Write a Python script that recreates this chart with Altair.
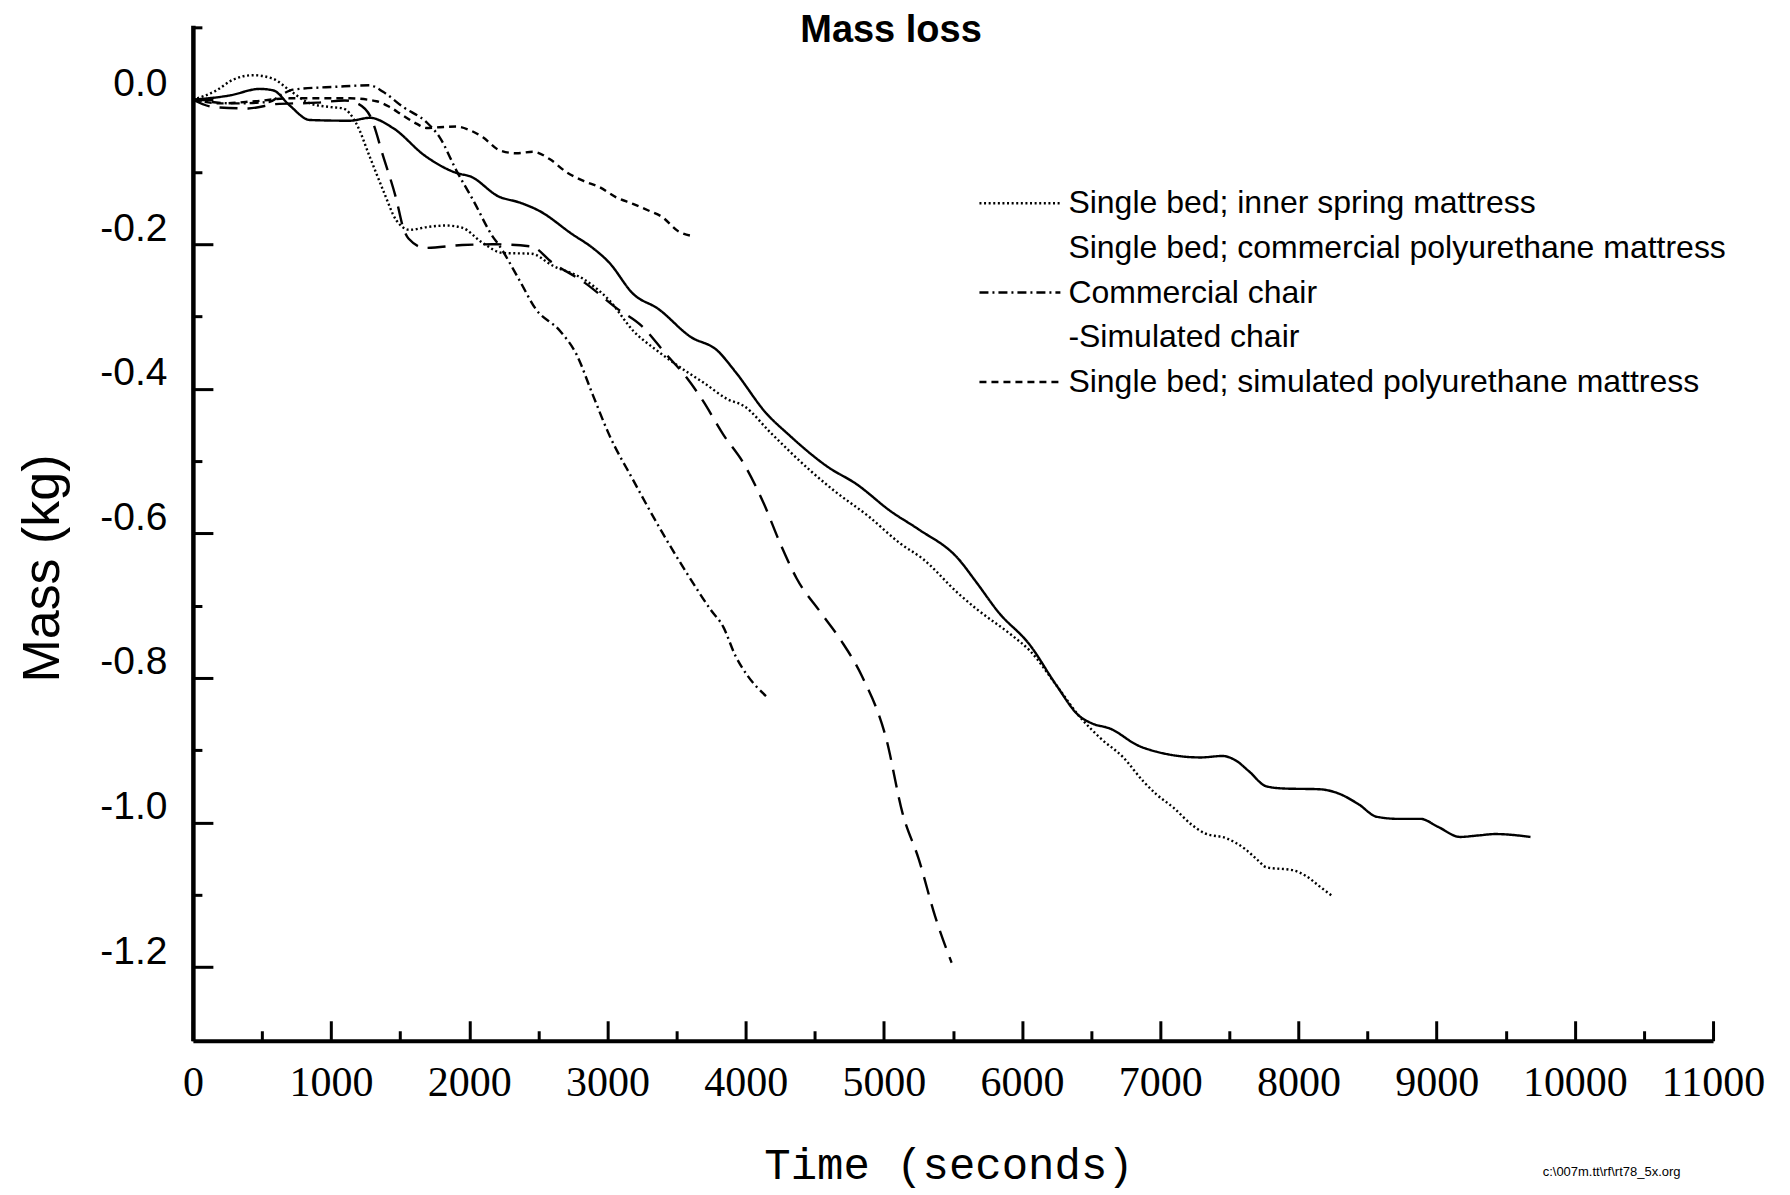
import altair as alt
import pandas as pd

series_names = [
    "Single bed; inner spring mattress",
    "Single bed; commercial polyurethane mattress",
    "Commercial chair",
    "Simulated chair",
    "Single bed; simulated polyurethane mattress",
]

# Single bed; inner spring mattress (dotted)
inner_t = [0, 171, 292, 436, 581, 701, 846, 991, 1087, 1183, 1280, 1376, 1473, 1569, 1700,
           1830, 1948, 2096, 2243, 2450, 2598, 2834, 3011, 3188, 3365, 3571, 3700, 3866, 3989,
           4182, 4473, 4634, 4893, 5119, 5280, 5538, 5667, 5926, 6055, 6248, 6410, 6571, 6733,
           6877, 6972, 7099, 7227, 7322, 7482, 7609, 7705, 7768, 7959, 8055, 8150, 8240]
inner_m = [0.0, 0.013, 0.028, 0.034, 0.029, 0.013, -0.005, -0.010, -0.012, -0.033, -0.079,
           -0.125, -0.167, -0.180, -0.176, -0.174, -0.177, -0.198, -0.212, -0.213, -0.229,
           -0.249, -0.277, -0.320, -0.348, -0.376, -0.392, -0.414, -0.424, -0.461, -0.514,
           -0.540, -0.577, -0.614, -0.635, -0.683, -0.704, -0.741, -0.762, -0.810, -0.852,
           -0.884, -0.910, -0.943, -0.961, -0.980, -1.003, -1.015, -1.022, -1.036, -1.052,
           -1.062, -1.066, -1.074, -1.088, -1.101]

# Single bed; commercial polyurethane mattress (solid)
compu_t = [0, 267, 485, 581, 701, 846, 1135, 1280, 1447, 1683, 1919, 2007, 2214, 2361, 2509,
           2745, 2893, 3011, 3188, 3365, 3601, 3795, 3924, 4150, 4309, 4602, 4796, 5054, 5248,
           5538, 5667, 5829, 6055, 6248, 6410, 6507, 6636, 6845, 6972, 7291, 7450, 7545, 7641,
           7768, 7896, 8150, 8278, 8437, 8565, 8724, 8883, 9010, 9170, 9297, 9425, 9679]
compu_m = [0.0, 0.006, 0.015, 0.013, -0.008, -0.028, -0.029, -0.025, -0.039, -0.078, -0.102,
           -0.106, -0.134, -0.142, -0.154, -0.186, -0.205, -0.225, -0.269, -0.289, -0.328,
           -0.347, -0.376, -0.434, -0.463, -0.509, -0.531, -0.570, -0.594, -0.635, -0.667,
           -0.709, -0.754, -0.810, -0.852, -0.863, -0.870, -0.894, -0.902, -0.910, -0.908,
           -0.914, -0.929, -0.950, -0.953, -0.954, -0.959, -0.975, -0.992, -0.995, -0.995,
           -1.006, -1.020, -1.018, -1.016, -1.020]

# Commercial chair (dash-dot)
cchair_t = [0, 300, 550, 650, 725, 1039, 1280, 1376, 1521, 1690, 1786, 1907, 2028, 2172, 2214,
            2361, 2479, 2657, 2775, 2893, 3011, 3188, 3394, 3571, 3748, 3837, 3925, 4014, 4147]
cchair_m = [0.0, -0.005, -0.003, 0.008, 0.014, 0.018, 0.020, 0.011, -0.010, -0.031, -0.052,
            -0.098, -0.139, -0.190, -0.201, -0.249, -0.289, -0.320, -0.352, -0.408, -0.463,
            -0.527, -0.598, -0.654, -0.706, -0.729, -0.769, -0.797, -0.825]

# Simulated chair (long dash)
schair_t = [0, 150, 400, 600, 900, 1100, 1200, 1284, 1380, 1475, 1520, 1560, 1683, 1948, 2184,
            2450, 2598, 2834, 3070, 3247, 3424, 3571, 3689, 3837, 3985, 4132, 4250, 4368, 4545,
            4693, 4840, 5017, 5135, 5253, 5371, 5490]
schair_m = [0.0, -0.010, -0.012, -0.006, -0.004, -0.001, -0.006, -0.023, -0.080, -0.140,
            -0.176, -0.192, -0.205, -0.201, -0.200, -0.203, -0.225, -0.253, -0.289, -0.313,
            -0.352, -0.384, -0.416, -0.463, -0.503, -0.559, -0.614, -0.662, -0.710, -0.749,
            -0.797, -0.884, -0.987, -1.051, -1.130, -1.194]

# Single bed; simulated polyurethane mattress (short dash)
simpu_t = [0, 200, 450, 702, 1135, 1328, 1424, 1521, 1617, 1690, 1786, 1907, 2003, 2099, 2220,
           2340, 2461, 2581, 2702, 2822, 2943, 3063, 3184, 3305, 3394, 3512, 3630]
simpu_m = [0.0, -0.005, -0.002, 0.002, 0.002, -0.002, -0.010, -0.022, -0.033, -0.039, -0.038,
           -0.037, -0.042, -0.052, -0.070, -0.074, -0.072, -0.082, -0.100, -0.112, -0.121,
           -0.135, -0.144, -0.154, -0.162, -0.182, -0.189]

x_label_values = list(range(0, 11001, 1000))
x_tick_values = list(range(0, 11001, 500))
y_label_values = [0.0, -0.2, -0.4, -0.6, -0.8, -1.0, -1.2]
y_tick_values = [0.1, 0.0, -0.1, -0.2, -0.3, -0.4, -0.5, -0.6, -0.7, -0.8, -0.9, -1.0, -1.1, -1.2]

rows = []
for name, ts, ms in zip(series_names,
                        [inner_t, compu_t, cchair_t, schair_t, simpu_t],
                        [inner_m, compu_m, cchair_m, schair_m, simpu_m]):
    for t, m in zip(ts, ms):
        rows.append({"series": name, "t": t, "m": m})
df = pd.DataFrame(rows)

W, H = 1521, 1016
x_scale = alt.Scale(domain=[0, 11000], nice=False, zero=False)
y_scale = alt.Scale(domain=[-1.302, 0.103], nice=False, zero=False)

dash_range = [[2, 2.6], [1, 0], [9, 4, 2, 4], [18, 10], [7, 5]]

lines = alt.Chart(df).mark_line(color="black", strokeWidth=2.4, interpolate="monotone").encode(
    x=alt.X("t:Q", scale=x_scale,
            axis=alt.Axis(values=x_label_values, format="d", ticks=False, tickSize=0, grid=False,
                          domainColor="black", domainWidth=4, labelFont="Liberation Serif",
                          labelFontSize=42, labelPadding=22, labelColor="black",
                          labelFlush=False, labelOverlap=False,
                          title="Time (seconds)", titleFont="Liberation Mono", titleFontSize=44,
                          titleFontWeight="normal", titleColor="black", titleX=756, titleY=125,
                          titleAlign="center", titleBaseline="middle")),
    y=alt.Y("m:Q", scale=y_scale,
            axis=alt.Axis(values=y_label_values,
                          labelExpr="(datum.value < 0 ? '-' : '') + format(abs(datum.value), '.1f')",
                          ticks=False, tickSize=0, grid=False, domainColor="black", domainWidth=4.5,
                          labelFont="Liberation Sans", labelFontSize=39, labelPadding=26,
                          labelOffset=-16, labelColor="black", labelFlush=False, labelOverlap=False,
                          title="Mass (kg)", titleFont="Liberation Sans", titleFontSize=52,
                          titleFontWeight="normal", titleColor="black", titleX=-150, titleY=543,
                          titleAlign="center", titleBaseline="middle")),
    strokeDash=alt.StrokeDash(
        "series:N", title=None,
        scale=alt.Scale(domain=series_names, range=dash_range),
        legend=alt.Legend(orient="none", legendX=811.5, legendY=162, symbolType="M-4,0H4",
                          symbolSize=410, symbolStrokeWidth=2.5, symbolStrokeColor="black",
                          symbolOpacity={"expr": "datum.value === 'Single bed; commercial polyurethane mattress' || datum.value === 'Simulated chair' ? 0 : 1"},
                          labelFont="Liberation Sans", labelFontSize=32, labelLimit=1200,
                          labelColor="black", labelOffset=32.5, rowPadding=12.7, padding=0,
                          labelExpr="datum.value === 'Simulated chair' ? '-Simulated chair' : datum.label"),
    ),
)

ticks = alt.Chart(df).mark_line(strokeOpacity=0).encode(
    x=alt.X("t:Q", scale=x_scale,
            axis=alt.Axis(orient="top", offset=-H, values=x_tick_values, labels=False, domain=False,
                          grid=False, tickColor="black", tickWidth=3,
                          tickSize={"condition": {"test": "datum.value % 1000 === 0", "value": 20}, "value": 10},
                          title="c:\\007m.tt\\rf\\rt78_5x.org", titleFont="Liberation Sans",
                          titleFontSize=13, titleFontWeight="normal", titleColor="black",
                          titleX=1419, titleY=131, titleAlign="center", titleBaseline="middle")),
    y=alt.Y("m:Q", scale=y_scale,
            axis=alt.Axis(orient="right", offset=-W, values=y_tick_values, labels=False, domain=False,
                          grid=False, tickColor="black", tickWidth=3,
                          tickSize={"condition": {"test": "round(abs(datum.value) * 10) % 2 === 0", "value": 20}, "value": 9},
                          title=None)),
    detail="series:N",
)

chart = alt.layer(lines, ticks).resolve_scale(x="shared", y="shared").resolve_axis(
    x="independent", y="independent"
).properties(
    width=W, height=H,
    padding={"left": 185, "top": 17, "right": 69, "bottom": 154},
    autosize=alt.AutoSizeParams(type="none"),
    title=alt.Title("Mass loss", font="Liberation Sans", fontSize=38, fontWeight="bold",
                    anchor="middle", frame="group", dx=-62, dy=44, offset=0, baseline="middle",
                    color="black"),
).configure(background="white").configure_view(strokeWidth=0)

chart.save("out.html", embed_options={"renderer": "svg", "actions": False})
